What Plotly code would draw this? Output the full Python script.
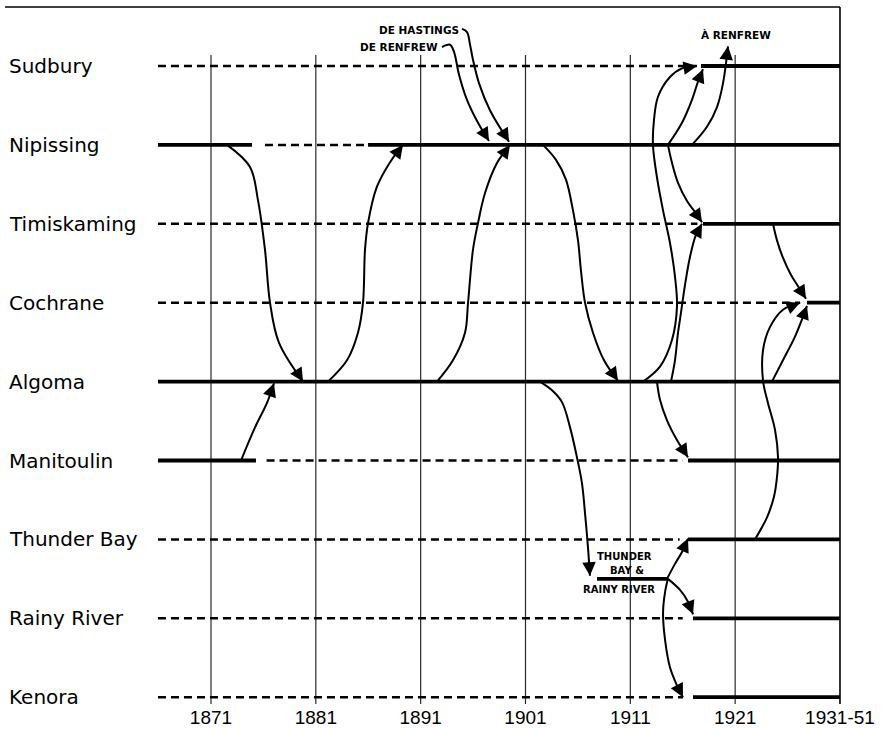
import plotly.graph_objects as go

# ---------------- data ----------------
rows = ["Sudbury", "Nipissing", "Timiskaming", "Cochrane", "Algoma",
        "Manitoulin", "Thunder Bay", "Rainy River", "Kenora"]
census_years = [1871, 1881, 1891, 1901, 1911, 1921, 1931]
year_labels = ["1871", "1881", "1891", "1901", "1911", "1921", "1931-51"]

# periods as an organized district (solid) and as unorganized territory (dashed)
solid_periods = {
    "Sudbury": [(1917.74, 1931)],
    "Nipissing": [(1865.94, 1874.91), (1885.98, 1931)],
    "Timiskaming": [(1917.93, 1931)],
    "Cochrane": [(1927.85, 1931)],
    "Algoma": [(1865.94, 1931)],
    "Manitoulin": [(1865.94, 1875.29), (1916.5, 1931)],
    "Thunder Bay": [(1916.5, 1931)],
    "Rainy River": [(1916.98, 1931)],
    "Kenora": [(1916.98, 1931)],
}
dashed_periods = {
    "Sudbury": [(1865.94, 1917.36)],
    "Nipissing": [(1876.15, 1885.98)],
    "Timiskaming": [(1865.94, 1917.4)],
    "Cochrane": [(1865.94, 1927.2)],
    "Algoma": [],
    "Manitoulin": [(1876.3, 1916.0)],
    "Thunder Bay": [(1865.94, 1915.7)],
    "Rainy River": [(1865.94, 1916.0)],
    "Kenora": [(1865.94, 1916.02)],
}
merged_label = ["THUNDER", "BAY &", "RAINY RIVER"]
merged_label_years = [1910.49, 1910.68, 1909.92]
merged_label_rows = [6.22, 6.40, 6.64]
merged_row = 6.5
merged_period = (1907.82, 1914.59)

# transfer flows: (years, rows) along the drawn path, arrow at the end
flow_years = [
    [1872.53, 1874.72, 1875.48, 1876.15, 1876.63, 1877.49, 1879.78],          # Nipissing -> Algoma
    [1873.86, 1875.20, 1876.34, 1877.01],                                      # Manitoulin -> Algoma
    [1882.16, 1883.97, 1885.02, 1885.50, 1885.69, 1885.98, 1886.83, 1888.08, 1889.31],  # Algoma -> Nipissing
    [1892.56, 1894.08, 1895.23, 1895.52, 1895.99, 1896.47, 1897.14, 1898.28, 1899.52],  # Algoma -> Nipissing
    [1893.04, 1893.80, 1894.18, 1894.66, 1895.42, 1896.47, 1897.52],          # de Renfrew
    [1894.94, 1895.42, 1895.71, 1895.99, 1896.57, 1897.61, 1899.43],          # de Hastings
    [1902.67, 1903.91, 1904.86, 1905.53, 1906.01, 1906.29, 1906.68, 1907.44, 1908.49, 1909.82],  # Nipissing -> Algoma
    [1902.38, 1903.53, 1904.48, 1905.25, 1905.91, 1906.39, 1906.68, 1906.96, 1907.15],  # Algoma -> TB & RR
    [1912.21, 1913.83, 1914.98, 1915.45, 1915.26, 1914.78, 1914.12, 1913.54, 1913.16,
     1913.26, 1913.64, 1914.78, 1915.93, 1917.36],                               # Algoma -> Sudbury
    [1914.88, 1915.26, 1915.55, 1915.83, 1916.21, 1916.69, 1917.26, 1917.84],  # Algoma -> Timiskaming
    [1914.59, 1914.98, 1915.55, 1916.41, 1917.17, 1917.84],                    # Nipissing -> Timiskaming
    [1914.59, 1915.93, 1916.88, 1917.45, 1917.93],                             # Nipissing -> Sudbury
    [1916.88, 1918.31, 1919.27, 1919.84, 1920.32],                             # Nipissing -> à Renfrew
    [1913.54, 1913.83, 1914.50, 1915.45, 1916.50],                             # Algoma -> Manitoulin
    [1922.89, 1924.04, 1924.70, 1924.99, 1925.09, 1924.80, 1924.13, 1923.66,
     1923.66, 1924.32, 1925.56, 1927.19],                                      # Thunder Bay -> Cochrane
    [1924.51, 1925.56, 1926.71, 1927.47, 1927.85],                             # Algoma -> Cochrane
    [1924.61, 1924.99, 1925.56, 1926.33, 1927.09, 1927.76],                    # Timiskaming -> Cochrane
    [1914.50, 1915.26, 1915.93, 1916.50],                                      # TB&RR -> Thunder Bay
    [1914.59, 1915.74, 1916.50, 1916.98],                                      # TB&RR -> Rainy River
    [1914.59, 1914.31, 1914.12, 1914.31, 1914.78, 1915.45, 1916.02],          # TB&RR -> Kenora
]
flow_rows = [
    [1.0, 1.28, 1.70, 2.33, 3.0, 3.51, 4.0],
    [5.0, 4.58, 4.27, 4.02],
    [4.0, 3.73, 3.38, 3.0, 2.33, 1.99, 1.53, 1.22, 1.0],
    [4.0, 3.73, 3.38, 3.0, 2.33, 1.99, 1.61, 1.23, 1.0],
    [-0.24, -0.27, -0.18, 0.11, 0.43, 0.72, 0.95],
    [-0.47, -0.43, -0.27, -0.08, 0.22, 0.56, 0.96],
    [1.0, 1.19, 1.44, 1.83, 2.21, 2.59, 3.0, 3.38, 3.73, 3.99],
    [4.0, 4.11, 4.26, 4.58, 4.96, 5.29, 5.67, 6.10, 6.46],
    [4.0, 3.81, 3.47, 3.05, 2.67, 2.24, 1.83, 1.41, 1.0, 0.68, 0.39, 0.14, 0.03, 0.0],
    [4.0, 3.73, 3.38, 3.13, 2.78, 2.42, 2.14, 2.0],
    [1.0, 1.23, 1.48, 1.71, 1.85, 1.98],
    [1.0, 0.72, 0.43, 0.20, 0.04],
    [1.0, 0.77, 0.52, 0.22, -0.25],
    [4.0, 4.23, 4.49, 4.74, 4.96],
    [6.0, 5.72, 5.46, 5.21, 4.96, 4.61, 4.27, 3.99, 3.60, 3.31, 3.09, 3.0],
    [4.0, 3.73, 3.43, 3.18, 3.04],
    [2.0, 2.21, 2.43, 2.65, 2.81, 2.95],
    [6.5, 6.31, 6.16, 5.99],
    [6.5, 6.64, 6.79, 6.95],
    [6.5, 6.67, 6.93, 7.27, 7.62, 7.85, 8.0],
]
side_labels = ["DE HASTINGS", "DE RENFREW", "À RENFREW"]
side_label_years = [1894.85, 1892.8, 1921.08]
side_label_rows = [-0.46, -0.24, -0.39]
side_label_anchor = ["right", "right", "center"]

# ---------------- figure ----------------
INK = "black"
X_RANGE = [1850.872, 1935.39]
Y_RANGE = [8.086, -0.8365]
fig = go.Figure()

# census grid lines
for yr in census_years[:-1]:
    fig.add_trace(go.Scatter(x=[yr, yr], y=[-0.14, Y_RANGE[0]], mode="lines",
                             line=dict(color="#2a2a2a", width=1.2),
                             hoverinfo="skip", showlegend=False))

# dashed (unorganized) and solid (district) row lines
for i, name in enumerate(rows):
    for a, b in dashed_periods[name]:
        fig.add_trace(go.Scatter(x=[a, b], y=[i, i], mode="lines",
                                 line=dict(color=INK, width=2.5, dash="8px,5px"),
                                 hoverinfo="skip", showlegend=False))
    for a, b in solid_periods[name]:
        fig.add_trace(go.Scatter(x=[a, b], y=[i, i], mode="lines",
                                 line=dict(color=INK, width=3.8),
                                 hoverinfo="skip", showlegend=False))

fig.add_trace(go.Scatter(x=list(merged_period), y=[merged_row, merged_row], mode="lines",
                         line=dict(color=INK, width=3.8),
                         hoverinfo="skip", showlegend=False))

# flows
PX_PER_YEAR = 886 / (X_RANGE[1] - X_RANGE[0])
PX_PER_ROW = 704 / (Y_RANGE[0] - Y_RANGE[1])
annotations = []
for yrs, rws in zip(flow_years, flow_rows):
    fig.add_trace(go.Scatter(x=yrs, y=rws, mode="lines",
                             line=dict(color=INK, width=2, shape="spline", smoothing=1.0),
                             hoverinfo="skip", showlegend=False))
    tx, ty = yrs[-1], rws[-1]
    px_, py_ = yrs[-2], rws[-2]
    dx = (px_ - tx) * PX_PER_YEAR
    dy = (py_ - ty) * PX_PER_ROW
    d = (dx * dx + dy * dy) ** 0.5
    f = min(1.0, 9.0 / d) if d > 0 else 1.0
    annotations.append(dict(x=tx, y=ty, ax=tx + (px_ - tx) * f, ay=ty + (py_ - ty) * f,
                            xref="x", yref="y", axref="x", ayref="y", text="",
                            showarrow=True, arrowhead=2, arrowsize=1.5, arrowwidth=1.8,
                            arrowcolor=INK))

# row labels
for i, name in enumerate(rows):
    annotations.append(dict(x=0.008, y=i, xref="paper", yref="y", text=name,
                            showarrow=False, xanchor="left", yanchor="middle",
                            font=dict(family="DejaVu Sans", size=20, color=INK)))

# small labels
for t, xv, yv, anc in zip(side_labels, side_label_years, side_label_rows, side_label_anchor):
    annotations.append(dict(x=xv, y=yv, xref="x", yref="y", text=t, showarrow=False,
                            xanchor=anc, yanchor="middle",
                            font=dict(family="DejaVu Sans", size=10.5, color=INK, weight="bold")))
for t, xv, yv in zip(merged_label, merged_label_years, merged_label_rows):
    annotations.append(dict(x=xv, y=yv, xref="x", yref="y", text=t, showarrow=False,
                            xanchor="center", yanchor="middle",
                            font=dict(family="DejaVu Sans", size=10, color=INK, weight="bold")))

shapes = [
    dict(type="line", xref="x", yref="y", x0=1851.35, x1=1931, y0=-0.748, y1=-0.748,
         line=dict(color=INK, width=1.6)),
    dict(type="line", xref="x", yref="y", x0=1931, x1=1931, y0=-0.748, y1=Y_RANGE[0],
         line=dict(color=INK, width=1.6)),
]

fig.update_layout(
    width=886, height=729,
    margin=dict(l=0, r=0, t=0, b=25),
    paper_bgcolor="white", plot_bgcolor="white",
    showlegend=False,
    annotations=annotations,
    shapes=shapes,
    xaxis=dict(range=X_RANGE, tickvals=census_years, ticktext=year_labels,
               showgrid=False, zeroline=False, showline=False, ticks="",
               tickfont=dict(family="Liberation Sans", size=19, color=INK), fixedrange=True),
    yaxis=dict(range=Y_RANGE, visible=False, fixedrange=True),
)

fig.write_html("out.html",
               config={"displayModeBar": False, "staticPlot": True},
               post_script="document.body.style.margin='0';document.body.style.overflow='hidden';")
